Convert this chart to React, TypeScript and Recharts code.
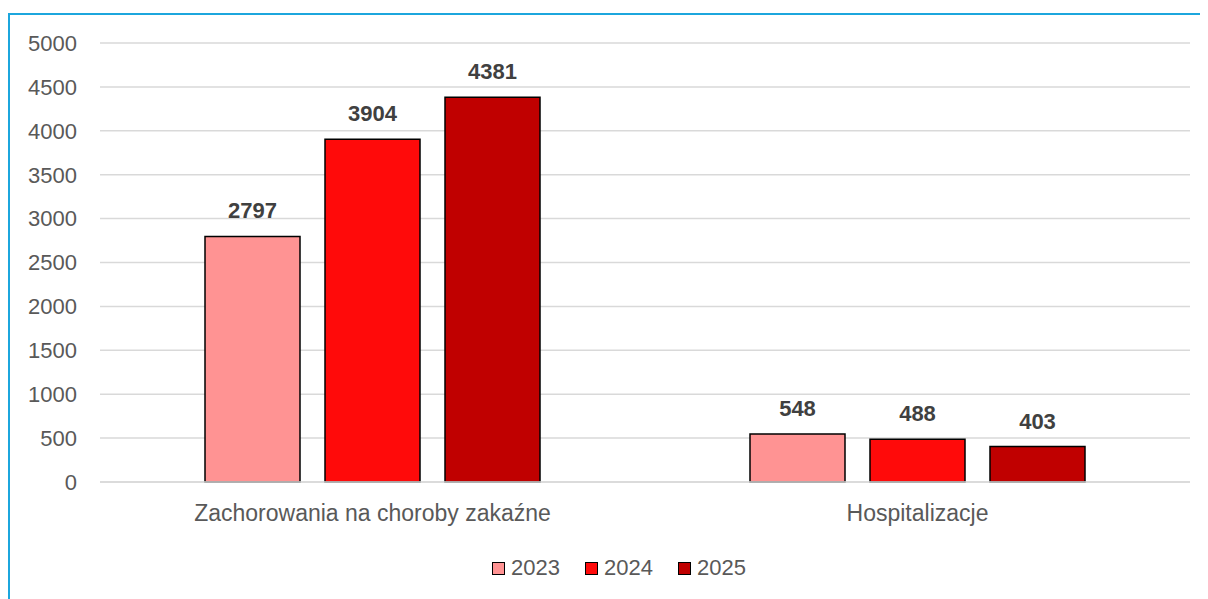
import React from 'react';
import { BarChart, Bar, XAxis, YAxis, CartesianGrid, Legend, LabelList } from 'recharts';

const categories = ['Zachorowania na choroby zakaźne', 'Hospitalizacje'];
const values2023 = [2797, 548];
const values2024 = [3904, 488];
const values2025 = [4381, 403];
const yTicks = [0, 500, 1000, 1500, 2000, 2500, 3000, 3500, 4000, 4500, 5000];
const seriesNames = ['2023', '2024', '2025'];
const seriesColors = ['#FF9393', '#FF0A0A', '#C00000'];

const data = categories.map((c, i) => ({
  name: c,
  '2023': values2023[i],
  '2024': values2024[i],
  '2025': values2025[i],
}));

const FONT = '"Liberation Sans", Arial, sans-serif';

const LegendContent = () => (
  <div style={{ display: 'flex', justifyContent: 'center', alignItems: 'center', fontFamily: FONT, fontSize: 22, color: '#595959', paddingLeft: 20 }}>
    {seriesNames.map((n, i) => (
      <div key={n} style={{ display: 'flex', alignItems: 'center', marginRight: i < seriesNames.length - 1 ? 25 : 0 }}>
        <span style={{ display: 'inline-block', width: 11, height: 11, background: seriesColors[i], border: '1.5px solid #000', marginRight: 6 }} />
        <span>{n}</span>
      </div>
    ))}
  </div>
);

export default function App() {
  return (
    <div style={{ marginTop: 5, width: 1198, height: 584, borderTop: '2px solid #1CA6DD', borderLeft: '2px solid #1CA6DD', fontFamily: FONT }}>
      <BarChart
        width={1198}
        height={584}
        data={data}
        margin={{ top: 28, right: 18, left: 0, bottom: 77 }}
        barSize={95}
        barGap={25}
      >
        <CartesianGrid vertical={false} stroke="#D9D9D9" strokeWidth={1.5} />
        <XAxis
          dataKey="name"
          height={40}
          tickLine={false}
          tickSize={0}
          tickMargin={23}
          axisLine={{ stroke: '#D9D9D9', strokeWidth: 1.5 }}
          tick={{ fill: '#595959', fontSize: 23, fontFamily: FONT }}
        />
        <YAxis
          width={90}
          domain={[0, 5000]}
          ticks={yTicks}
          axisLine={false}
          tickLine={false}
          tickSize={0}
          tickMargin={23}
          tick={{ fill: '#595959', fontSize: 22, fontFamily: FONT }}
        />
        <Legend
          layout="horizontal"
          align="center"
          verticalAlign="middle"
          content={<LegendContent />}
          wrapperStyle={{ top: 540, left: 0, width: 1198 }}
        />
        {seriesNames.map((n, i) => (
          <Bar key={n} dataKey={n} fill={seriesColors[i]} stroke="#000" strokeWidth={1.5} isAnimationActive={false}>
            <LabelList dataKey={n} position="top" offset={18} fill="#404040" fontSize={22} fontWeight="bold" fontFamily={FONT} />
          </Bar>
        ))}
      </BarChart>
    </div>
  );
}
